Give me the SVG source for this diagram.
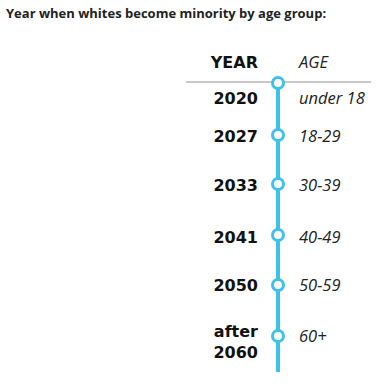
<svg xmlns="http://www.w3.org/2000/svg" width="391" height="384" viewBox="0 0 391 384">
<style>
.title{font-family:"Open Sans","Liberation Sans",sans-serif;font-weight:bold;font-size:13px;fill:#222}
.yr{font-family:"DejaVu Sans","Liberation Sans",sans-serif;font-weight:bold;font-size:16px;fill:#111;text-anchor:end}
.age{font-family:"Open Sans","Liberation Sans",sans-serif;font-style:italic;font-size:16.5px;fill:#222}
.dot{fill:#fff;stroke:#3ec1ea;stroke-width:3}
</style>
<rect width="391" height="384" fill="#fff"/>
<text class="title" x="6" y="18">Year when whites become minority by age group:</text>
<g id="header">
<text class="yr" x="258" y="68">YEAR</text>
<text class="age" x="299" y="68">AGE</text>
</g>
<g id="connectors">
<line x1="186" y1="82" x2="371" y2="82" stroke="#c8c8c8" stroke-width="2"/>
<line x1="278" y1="83" x2="278" y2="372" stroke="#3ec1ea" stroke-width="4"/>
</g>
<g id="n2020"><circle class="dot" cx="278" cy="83" r="5.5"/><text class="yr" x="258" y="104">2020</text><text class="age" x="299" y="104">under 18</text></g>
<g id="n2027"><circle class="dot" cx="278" cy="135" r="5.5"/><text class="yr" x="258" y="142">2027</text><text class="age" x="299" y="142">18-29</text></g>
<g id="n2033"><circle class="dot" cx="278" cy="184" r="5.5"/><text class="yr" x="258" y="191">2033</text><text class="age" x="299" y="191">30-39</text></g>
<g id="n2041"><circle class="dot" cx="278" cy="235" r="5.5"/><text class="yr" x="258" y="243">2041</text><text class="age" x="299" y="243">40-49</text></g>
<g id="n2050"><circle class="dot" cx="278" cy="285" r="5.5"/><text class="yr" x="258" y="291">2050</text><text class="age" x="299" y="291">50-59</text></g>
<g id="n2060"><circle class="dot" cx="278" cy="336" r="5.5"/><text class="yr" x="258" y="337">after</text><text class="yr" x="258" y="358">2060</text><text class="age" x="299" y="342">60+</text></g>
</svg>
